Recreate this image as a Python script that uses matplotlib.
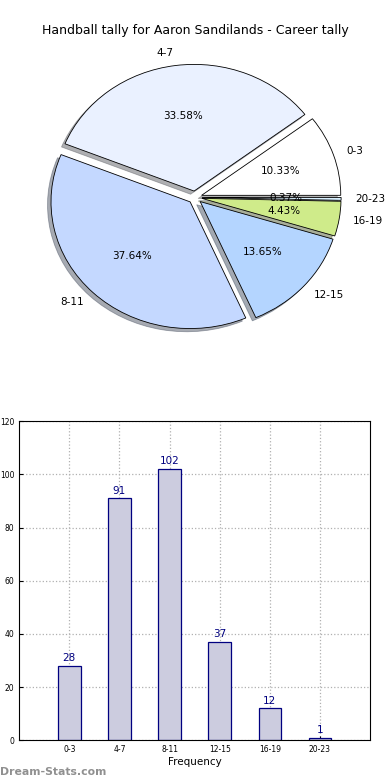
import matplotlib.pyplot as plt

# data
labels = ['0-3', '4-7', '8-11', '12-15', '16-19', '20-23']
counts = [28, 91, 102, 37, 12, 1]
pie_colors = ['#ffffff', '#eaf1ff', '#c4d8ff', '#b4d5ff', '#cfeb8a', '#d8f0ff']

plt.rcParams['font.family'] = 'DejaVu Sans'

fig = plt.figure(figsize=(3.9, 7.8), dpi=100)
fig.text(0.5, 0.961, 'Handball tally for Aaron Sandilands - Career tally',
         ha='center', va='center', fontsize=9)

# pie chart (slightly squashed, like the original)
ax1 = fig.add_axes([0.054, 0.544, 0.892, 0.406])
wedges, texts, autotexts = ax1.pie(
    counts, labels=labels, colors=pie_colors, explode=[0.05] * len(counts),
    autopct='%.2f%%', shadow={'ox': -0.018, 'oy': -0.018, 'shade': 0.6},
    startangle=0, counterclock=True,
    wedgeprops={'edgecolor': 'black', 'linewidth': 0.6},
    textprops={'fontsize': 7.5})
ax1.set_aspect('auto')

# bar chart
ax2 = fig.add_axes([0.049, 0.051, 0.9, 0.409])
x = range(len(labels))
bars = ax2.bar(x, counts, width=0.45, color='#ccccdf', edgecolor='#000080',
               linewidth=0.9, zorder=2)
for xi, c in zip(x, counts):
    ax2.text(xi, c + 1, str(c), ha='center', va='bottom', color='#000080', fontsize=7.5)
ax2.set_xlim(-1, 6)
ax2.set_ylim(0, 120)
ax2.set_yticks(range(0, 121, 20))
ax2.set_xticks(list(x))
ax2.set_xticklabels(labels)
ax2.tick_params(labelsize=5.5, direction='in', length=3)
ax2.grid(True, linestyle=':', color='#b0b0b0', linewidth=0.9, zorder=0)
ax2.set_xlabel('Frequency', fontsize=7.5, labelpad=2)

fig.text(0.0, 0.004, 'Dream-Stats.com', fontsize=7.8, color='#909090',
         fontweight='bold', ha='left', va='bottom')

plt.savefig('out.png', dpi=100)
